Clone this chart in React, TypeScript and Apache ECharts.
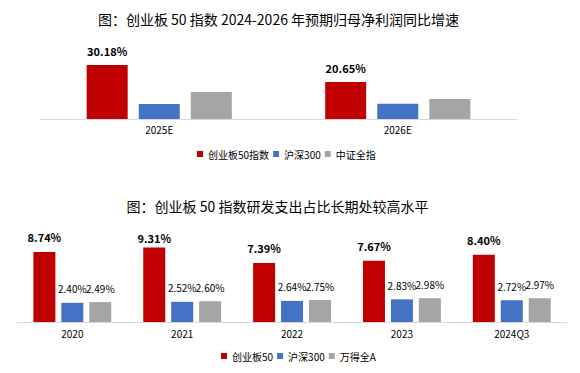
import React, { useEffect, useRef } from "react";
import * as echarts from "echarts";

// Top chart: 2024-2026 expected net profit growth
const topCategories = ["2025E", "2026E"];
const topCyb50 = [30.18, 20.65];
const topHs300 = [8.4, 8.5];
const topZzqz = [15.1, 11.2];
const topNames = ["创业板50指数", "沪深300", "中证全指"];

// Bottom chart: R&D expense ratio
const botCategories = ["2020", "2021", "2022", "2023", "2024Q3"];
const botCyb50 = [8.74, 9.31, 7.39, 7.67, 8.4];
const botHs300 = [2.4, 2.52, 2.64, 2.83, 2.72];
const botWdqa = [2.49, 2.6, 2.75, 2.98, 2.97];
const botNames = ["创业板50", "沪深300", "万得全A"];

const RED = "#C00000";
const BLUE = "#4472C4";
const GRAY = "#A5A5A5";
const FONT = "'Noto Sans CJK SC', 'Noto Sans', sans-serif";

export default function App() {
  const ref = useRef<HTMLDivElement>(null);
  useEffect(() => {
    if (!ref.current) return;
    const chart = echarts.init(ref.current, undefined, { renderer: "svg" });
    const pct = (p: any) => Number(p.value).toFixed(2) + "%";
    const boldLabel = (d: number) => ({
      show: true,
      position: "top",
      distance: d,
      formatter: pct,
      fontSize: 11,
      fontWeight: "bold",
      color: "#000",
      fontFamily: FONT,
    });
    const normLabel = {
      show: true,
      position: "top",
      distance: 9,
      formatter: pct,
      fontSize: 10,
      color: "#000",
      fontFamily: FONT,
    };
    const xAxisCommon = {
      type: "category",
      axisTick: { show: false },
      axisLine: { show: true, lineStyle: { color: "#D9D9D9", width: 1 } },
      axisLabel: { color: "#000", fontSize: 10, fontFamily: FONT },
    };
    chart.setOption({
      animation: false,
      textStyle: { fontFamily: FONT },
      title: [
        {
          text: "图：创业板 50 指数 2024-2026 年预期归母净利润同比增速",
          left: 278.5,
          top: 12,
          textAlign: "center",
          padding: 0,
          textStyle: { fontSize: 14, fontWeight: "normal", color: "#000", fontFamily: FONT },
        },
        {
          text: "图：创业板 50 指数研发支出占比长期处较高水平",
          left: 277.5,
          top: 199,
          textAlign: "center",
          padding: 0,
          textStyle: { fontSize: 14, fontWeight: "normal", color: "#000", fontFamily: FONT },
        },
      ],
      legend: [
        {
          data: topNames,
          left: 197,
          top: 149,
          padding: 0,
          icon: "rect",
          itemWidth: 6,
          itemHeight: 6,
          itemGap: 4,
          textStyle: { fontSize: 10, color: "#000", fontFamily: FONT },
        },
        {
          data: botNames,
          left: 221,
          top: 351,
          padding: 0,
          icon: "rect",
          itemWidth: 6,
          itemHeight: 6,
          itemGap: 4,
          textStyle: { fontSize: 10, color: "#000", fontFamily: FONT },
        },
      ],
      grid: [
        { left: 40, right: 63, top: 56.4, height: 62.6 },
        { left: 17.4, right: 13.3, top: 242, height: 80 },
      ],
      xAxis: [
        { ...xAxisCommon, gridIndex: 0, data: topCategories, axisLabel: { ...xAxisCommon.axisLabel, margin: 5 } },
        { ...xAxisCommon, gridIndex: 1, data: botCategories, axisLabel: { ...xAxisCommon.axisLabel, margin: 6 } },
      ],
      yAxis: [
        { type: "value", gridIndex: 0, min: 0, max: 35, show: false, splitLine: { show: false } },
        { type: "value", gridIndex: 1, min: 0, max: 10, show: false, splitLine: { show: false } },
      ],
      series: [
        {
          name: topNames[0], type: "bar", xAxisIndex: 0, yAxisIndex: 0, data: topCyb50,
          barWidth: 41, barGap: "27%", itemStyle: { color: RED }, label: boldLabel(9),
        },
        {
          name: topNames[1], type: "bar", xAxisIndex: 0, yAxisIndex: 0, data: topHs300,
          barWidth: 41, barGap: "27%", itemStyle: { color: BLUE },
        },
        {
          name: topNames[2], type: "bar", xAxisIndex: 0, yAxisIndex: 0, data: topZzqz,
          barWidth: 41, barGap: "27%", itemStyle: { color: GRAY },
        },
        {
          name: botNames[0], type: "bar", xAxisIndex: 1, yAxisIndex: 1,
          data: botCyb50.map((v, i) => (i === 1 ? { value: v, label: { distance: 4 } } : v)),
          barWidth: 22, barGap: "27%", itemStyle: { color: RED }, label: boldLabel(9.5),
        },
        {
          name: botNames[1], type: "bar", xAxisIndex: 1, yAxisIndex: 1, data: botHs300,
          barWidth: 22, barGap: "27%", itemStyle: { color: BLUE }, label: normLabel,
        },
        {
          name: botNames[2], type: "bar", xAxisIndex: 1, yAxisIndex: 1, data: botWdqa,
          barWidth: 22, barGap: "27%", itemStyle: { color: GRAY }, label: normLabel,
        },
      ],
    });
    return () => chart.dispose();
  }, []);
  return (
    <div
      ref={ref}
      style={{ position: "fixed", left: 0, top: 0, width: 580, height: 373, background: "#fff" }}
    />
  );
}
